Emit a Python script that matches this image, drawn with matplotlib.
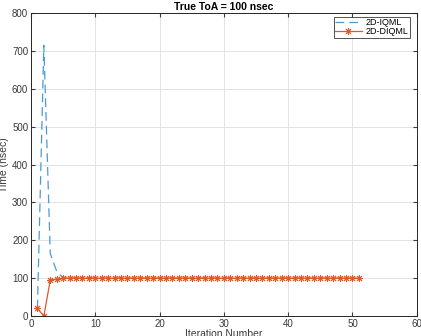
import numpy as np
import matplotlib
matplotlib.use("Agg")
import matplotlib.pyplot as plt

plt.rcParams['font.family'] = ['Liberation Sans', 'DejaVu Sans']

# iteration numbers
iters = list(range(1, 52))

# 2D-IQML estimate (nsec)
iqml = [20, 715, 165, 118, 101] + [100] * 46

# 2D-DIQML estimate (nsec)
diqml = [20, 0, 95, 97] + [100] * 47

fig = plt.figure(figsize=(4.21, 3.36), dpi=100)
ax = fig.add_axes([0.0736, 0.0595, 0.9164, 0.9015])

ax.plot(iters, iqml, '--', color='#4a9ad6', lw=0.9, dashes=(7, 4), label='2D-IQML')
ax.plot(iters, diqml, '-', color='#dd5a26', lw=0.9, marker=(8, 2, 0), ms=5,
        markeredgewidth=0.7, label='2D-DIQML')

ax.set_xlim(0, 60)
ax.set_ylim(0, 800)
ax.set_xticks(np.arange(0, 61, 10))
ax.set_yticks(np.arange(0, 801, 100))
ax.grid(True, color='#e3e3e3', lw=0.7)
ax.tick_params(labelsize=7, direction='in', length=3, top=True, right=True,
               colors='#3a3a3a', pad=2)
for s in ax.spines.values():
    s.set_color('#262626')
    s.set_linewidth(0.7)

ax.set_title('True ToA = 100 nsec', fontsize=7.5, fontweight='bold', pad=2)
ax.set_xlabel('Iteration Number', fontsize=7.5, labelpad=0, color='#3a3a3a')
ax.set_ylabel('Time (nsec)', fontsize=7.5, labelpad=2, color='#3a3a3a')

leg = ax.legend(loc='upper right', fontsize=6.5, frameon=True, fancybox=False,
                edgecolor='#262626', handlelength=3, borderpad=0.15,
                labelspacing=0.0, handletextpad=0.4, borderaxespad=0,
                bbox_to_anchor=(0.982, 0.987))
leg.get_frame().set_linewidth(0.7)

fig.savefig('out.png', dpi=100)
